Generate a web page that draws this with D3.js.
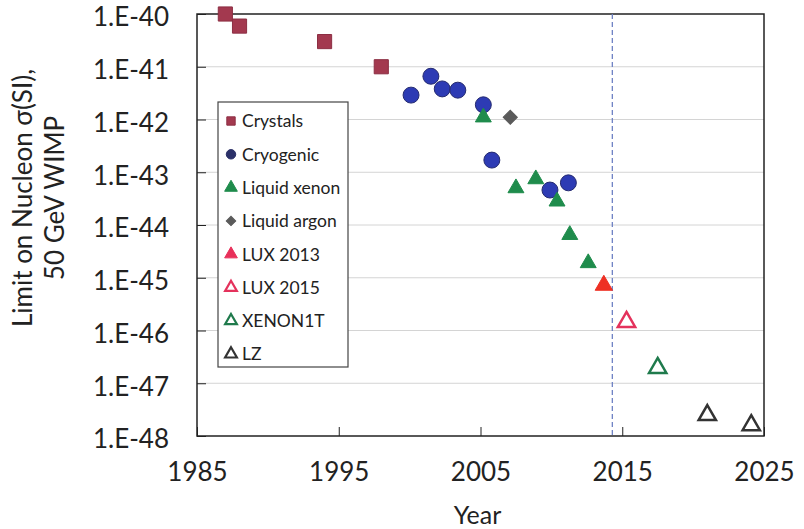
<!DOCTYPE html>
<html>
<head>
<meta charset="utf-8">
<script src="https://cdn.jsdelivr.net/npm/d3@7"></script>
<style>
  body { margin: 0; background: #fff; }
  text { font-family: Lato, "Open Sans", sans-serif; fill: #222; }
</style>
</head>
<body>
<div id="chart"></div>
<script>
// data (year, cross section limit)
var crystalsYear = [1987.0, 1988.0, 1994.0, 1998.0];
var crystalsVal = [1e-40, 5.9e-41, 3.0e-41, 1.0e-41];

var cryoYear = [2000.1, 2001.5, 2002.3, 2003.4, 2005.2, 2005.8, 2009.9, 2011.2];
var cryoVal = [2.9e-42, 6.6e-42, 3.8e-42, 3.6e-42, 1.9e-42, 1.7e-43, 4.6e-44, 6.3e-44];

var xenonYear = [2005.2, 2007.5, 2008.9, 2010.4, 2011.3, 2012.6];
var xenonVal = [1.1e-42, 5.0e-44, 7.4e-44, 2.8e-44, 6.5e-45, 1.9e-45];

var argonYear = [2007.1];
var argonVal = [1.1e-42];

var lux13Year = [2013.7];
var lux13Val = [7.2e-46];

var lux15Year = [2015.3];
var lux15Val = [1.45e-46];

var xenon1tYear = [2017.5];
var xenon1tVal = [1.95e-47];

var lzYear = [2021.0, 2024.1];
var lzVal = [2.5e-48, 1.6e-48];

var todayYear = 2014.3;

var xTicks = [1985, 1995, 2005, 2015, 2025];
var yTicks = [1e-40, 1e-41, 1e-42, 1e-43, 1e-44, 1e-45, 1e-46, 1e-47, 1e-48];

var legendNames = ["Crystals", "Cryogenic", "Liquid xenon", "Liquid argon", "LUX 2013", "LUX 2015", "XENON1T", "LZ"];

// #############################################################
// CANVAS
// #############################################################
var W = 804, H = 529;
var margin = {top: 14, right: 40, bottom: 93, left: 197},
    width = W - margin.left - margin.right,
    height = H - margin.top - margin.bottom;

var svg = d3.select("#chart")
  .append("svg")
    .attr("width", W)
    .attr("height", H)
  .append("g")
    .attr("transform", "translate(" + margin.left + "," + margin.top + ")");

var xScale = d3.scaleLinear().domain([1985, 2025]).range([0, width]);
var yScale = d3.scaleLog().domain([1e-48, 1e-40]).range([height, 0]);

// gridlines
svg.append("g")
  .selectAll("line")
  .data(yTicks.slice(1, -1))
  .enter().append("line")
    .attr("x1", 0).attr("x2", width)
    .attr("y1", d => yScale(d)).attr("y2", d => yScale(d))
    .attr("stroke", "#d4d4d4")
    .attr("stroke-width", 1);

// y axis, ticks inside
var yAxis = d3.axisLeft(yScale)
  .tickValues(yTicks)
  .tickSize(-9)
  .tickPadding(28)
  .tickFormat(d => "1.E" + Math.round(Math.log10(d)));
var gy = svg.append("g").call(yAxis);
gy.select(".domain").remove();
gy.selectAll("line").attr("stroke", "#222");
gy.selectAll("text").attr("font-size", 26).attr("dy", "0.46em").style("font-family", "Lato, sans-serif").attr("fill", "#222");

// x axis
var xAxis = d3.axisBottom(xScale)
  .tickValues(xTicks)
  .tickSize(-9)
  .tickPadding(27)
  .tickFormat(d3.format("d"));
var gx = svg.append("g")
  .attr("transform", "translate(0," + height + ")")
  .call(xAxis);
gx.select(".domain").remove();
gx.selectAll("line").attr("stroke", "#222");
gx.selectAll("text").attr("font-size", 26).style("font-family", "Lato, sans-serif").attr("fill", "#222");

// frame
svg.append("rect")
  .attr("x", 0).attr("y", 0)
  .attr("width", width).attr("height", height)
  .attr("fill", "none")
  .attr("stroke", "#222")
  .attr("stroke-width", 1.5);

// dashed line for today
svg.append("line")
  .attr("x1", xScale(todayYear)).attr("x2", xScale(todayYear))
  .attr("y1", 0).attr("y2", height)
  .attr("stroke", "#6f82c4")
  .attr("stroke-width", 1.3)
  .attr("stroke-dasharray", "5,3");

// axis titles
svg.append("text")
  .attr("text-anchor", "middle")
  .attr("transform", "translate(" + (width / 2 - 3) + "," + (height + 88) + ")")
  .attr("font-size", 25)
  .text("Year");

var yt = svg.append("text")
  .attr("text-anchor", "middle")
  .attr("transform", "translate(-165," + (height / 2 - 27) + ") rotate(-90)")
  .attr("font-size", 26);
yt.append("tspan").attr("x", 0).attr("dy", 0).text("Limit on  Nucleon \u03c3(SI),");
yt.append("tspan").attr("x", 0).attr("dy", 32).text("50 GeV WIMP");

// #############################################################
// MARKERS
// #############################################################
var series = [
  {years: crystalsYear, vals: crystalsVal, type: d3.symbolSquare, size: 200, fill: "#a3394f", stroke: "#8c2e43", sw: 1, lsize: 70},
  {years: cryoYear, vals: cryoVal, type: d3.symbolCircle, size: 200, fill: "#2d3bb4", stroke: "#242a70", sw: 1, lsize: 70, lfill: "#2b3068"},
  {years: xenonYear, vals: xenonVal, type: d3.symbolTriangle, size: 110, fill: "#1f8c4c", stroke: "#1f8c4c", sw: 1, lsize: 70},
  {years: argonYear, vals: argonVal, type: d3.symbolSquare, rot: 45, size: 100, fill: "#5a5a5a", stroke: "#5a5a5a", sw: 1, lsize: 45},
  {years: lux13Year, vals: lux13Val, type: d3.symbolTriangle, size: 130, fill: "#ee3024", stroke: "#ee3024", sw: 1, lsize: 70, lfill: "#e8305a"},
  {years: lux15Year, vals: lux15Val, type: d3.symbolTriangle, size: 130, fill: "#fff", stroke: "#e4325c", sw: 2.5, lsize: 60},
  {years: xenon1tYear, vals: xenon1tVal, type: d3.symbolTriangle, size: 130, fill: "#fff", stroke: "#1f7a4c", sw: 2.5, lsize: 60},
  {years: lzYear, vals: lzVal, type: d3.symbolTriangle, size: 130, fill: "#fff", stroke: "#333", sw: 2.5, lsize: 60}
];

series.forEach(function(s) {
  var pts = s.years.map((y, i) => ({year: y, val: s.vals[i]}));
  svg.append("g")
    .selectAll("path")
    .data(pts)
    .enter().append("path")
      .attr("d", d3.symbol().type(s.type).size(s.size))
      .attr("transform", d => "translate(" + xScale(d.year) + "," + yScale(d.val) + ") rotate(" + (s.rot || 0) + ")")
      .attr("fill", s.fill)
      .attr("stroke", s.stroke)
      .attr("stroke-width", s.sw);
});

// #############################################################
// LEGEND
// #############################################################
var legend = svg.append("g").attr("transform", "translate(21,88)");
legend.append("rect")
  .attr("x", 0).attr("y", 0)
  .attr("width", 130).attr("height", 265)
  .attr("fill", "#fff")
  .attr("stroke", "#444")
  .attr("stroke-width", 1.2);

var items = legend.selectAll("g.item")
  .data(series)
  .enter().append("g")
    .attr("class", "item")
    .attr("transform", (d, i) => "translate(13," + (19 + i * 33.3) + ")");

items.append("path")
  .attr("d", d => d3.symbol().type(d.type).size(d.lsize)())
  .attr("transform", d => "rotate(" + (d.rot || 0) + ")")
  .attr("fill", d => d.lfill || d.fill)
  .attr("stroke", d => d.lfill || d.stroke)
  .attr("stroke-width", d => d.sw > 1 ? 2.2 : 1);

items.append("text")
  .attr("x", 11)
  .attr("dy", "0.36em")
  .attr("font-size", 17.5)
  .text((d, i) => legendNames[i]);
</script>
</body>
</html>
